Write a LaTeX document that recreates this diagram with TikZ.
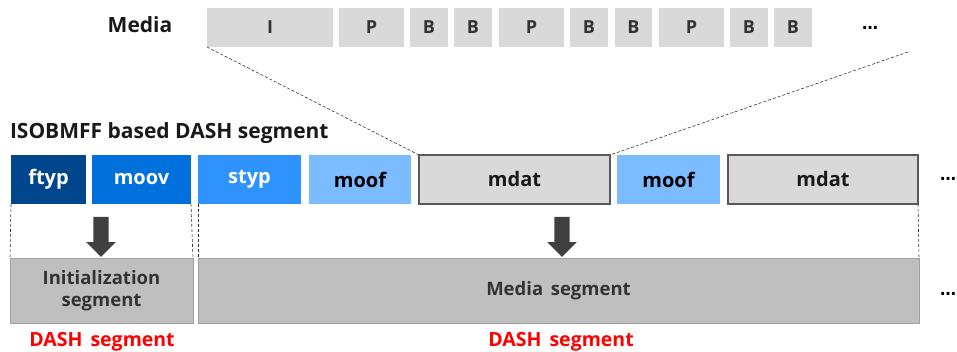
\documentclass[tikz,border=0pt]{standalone}
\usepackage{fontspec}
\setmainfont{Open Sans}
\newfontfamily\dotsfont{DejaVu Sans}
\newfontfamily\widefont[WordSpace=1.6]{Open Sans}
\usetikzlibrary{shapes.arrows}
\definecolor{cftyp}{HTML}{00468C}
\definecolor{cmoov}{HTML}{0070DD}
\definecolor{cstyp}{HTML}{2E93FF}
\definecolor{cmoof}{HTML}{7ABCFF}
\definecolor{cframe}{HTML}{D9D9D9}
\definecolor{cmdatline}{HTML}{595959}
\definecolor{cseg}{HTML}{BFBFBF}
\definecolor{csegline}{HTML}{A0A0A0}
\definecolor{carrow}{HTML}{404040}
\definecolor{ctext}{HTML}{333333}
\begin{document}
\begin{tikzpicture}[x=1pt,y=-1pt,
  base/.style={inner sep=0pt,outer sep=0pt,font=\fontsize{20}{24}\selectfont\bfseries},
  frame/.style={base,fill=cframe,minimum height=39pt,text=ctext,font=\fontsize{18}{20}\selectfont\bfseries},
  blue/.style={base,minimum height=49pt},
  mdatbox/.style={base,fill=cframe,draw=cmdatline,line width=1.2pt,minimum height=49pt,text=black!90},
  segbox/.style={base,fill=cseg,draw=csegline,line width=1pt,minimum height=64pt,text=ctext,align=center,font=\widefont\fontsize{18.5}{22}\selectfont\bfseries},
  label/.style={base,font=\fontsize{21}{24}\selectfont\bfseries,text=black!90},
  redlabel/.style={base,font=\widefont\fontsize{19.5}{22}\selectfont\bfseries,text=red},
  dotlabel/.style={inner sep=0pt,font=\dotsfont\fontsize{16}{18}\selectfont\bfseries},
  zoomline/.style={densely dashed,line width=0.6pt,black!80},
  guide/.style={densely dashed,line width=0.6pt,black!80},
  bigarrow/.style={single arrow,fill=carrow,draw=none,inner sep=7.5pt,single arrow head extend=7pt,single arrow tip angle=90,minimum height=40pt,shape border rotate=270},
]
\useasboundingbox (0,0) rectangle (957,352);
% top media frames
\node[label] (medialbl) at (140,25) {Media};
\node[frame,minimum width=126pt] (fI) at (270,27.5) {I};
\node[frame,minimum width=65pt] (fP1) at (371.5,27.5) {P};
\node[frame,minimum width=38pt] (fB1) at (429,27.5) {B};
\node[frame,minimum width=38pt] (fB2) at (473,27.5) {B};
\node[frame,minimum width=65pt] (fP2) at (531.5,27.5) {P};
\node[frame,minimum width=38pt] (fB3) at (589,27.5) {B};
\node[frame,minimum width=37pt] (fB4) at (633.5,27.5) {B};
\node[frame,minimum width=65pt] (fP3) at (691.5,27.5) {P};
\node[frame,minimum width=38pt] (fB5) at (749,27.5) {B};
\node[frame,minimum width=38pt] (fB6) at (793,27.5) {B};
\node[dotlabel] (dtop) at (870,30) {⋯};
% middle row
\node[label,anchor=west] (isolbl) at (10,133) {ISOBMFF based DASH segment};
\node[blue,fill=cftyp,text=white,minimum width=75pt] (ftyp) at (48.5,179.5) {ftyp};
\node[blue,fill=cmoov,text=white,minimum width=99pt] (moov) at (141.5,179.5) {moov};
\node[blue,fill=cstyp,text=white,minimum width=103pt] (styp) at (249.5,179.5) {styp};
\node[blue,fill=cmoof,text=black,minimum width=102pt] (moof1) at (360,179.5) {moof};
\node[mdatbox,minimum width=191pt] (mdat1) at (514.5,179.5) {mdat};
\node[blue,fill=cmoof,text=black,minimum width=103pt] (moof2) at (668.5,179.5) {moof};
\node[mdatbox,minimum width=190pt] (mdat2) at (823,179.5) {mdat};
\node[dotlabel] (dmid) at (948,181) {⋯};
% zoom lines
\coordinate (zr) at (908,52);
\draw[zoomline] (fI.south west) -- (mdat1.north west);
\draw[zoomline] (zr) -- (mdat1.north east);
% bottom row
\node[segbox,minimum width=183pt] (init) at (101.5,291) {Initialization\\segment};
\node[segbox,minimum width=721pt] (media) at (558.5,291) {Media segment};
\node[dotlabel] (dbot) at (948,296) {⋯};
% guides
\draw[guide] (ftyp.south west) -- (init.north west);
\draw[guide] (moov.south east) -- (init.north east);
\draw[guide] (styp.south west) -- (media.north west);
\draw[guide] (mdat2.south east) -- (media.north east);
% arrows
\node[bigarrow] (arr1) at (101,233) {};
\node[bigarrow] (arr2) at (562,233) {};
% red labels
\node[redlabel] (dash1) at (102,342) {DASH segment};
\node[redlabel] (dash2) at (561,342) {DASH segment};
\end{tikzpicture}
\end{document}
